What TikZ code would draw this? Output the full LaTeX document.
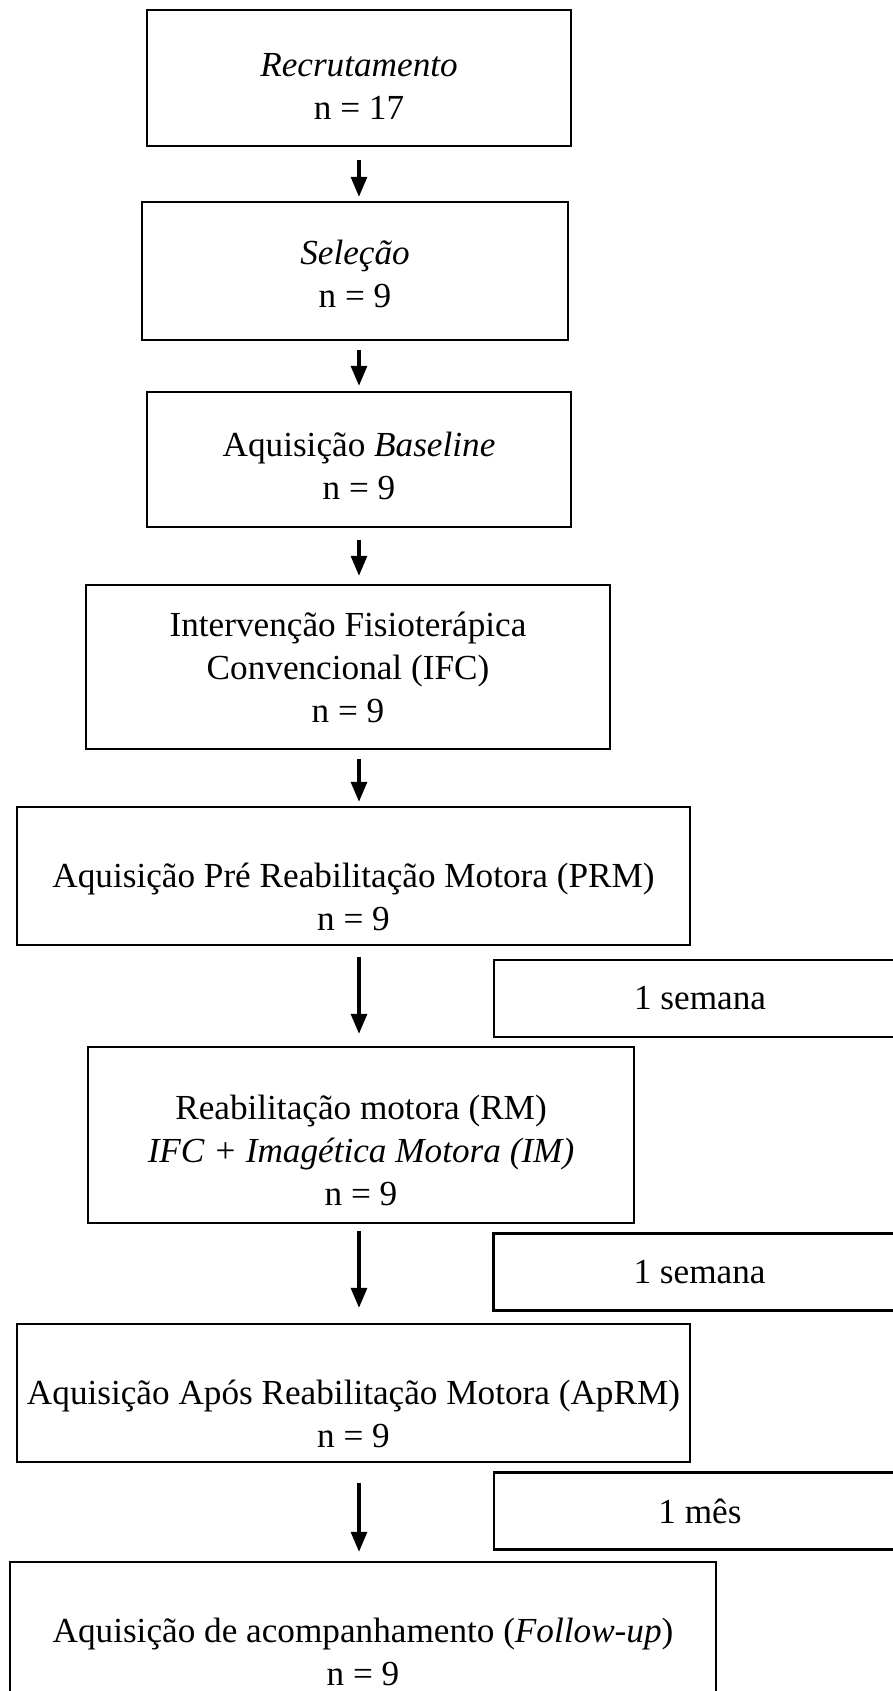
\documentclass[tikz,border=0pt]{standalone}
\usepackage{fontspec}
\setmainfont{Liberation Serif}
\usetikzlibrary{arrows.meta}

\begin{document}
\begin{tikzpicture}[x=0.5pt,y=-0.5pt,
        box/.style={draw,line width=1.2pt,align=center,inner sep=1pt,
            font=\fontsize{17.6}{21.5}\selectfont},
        side/.style={box,minimum width=206pt,minimum height=38.5pt},
        seta/.style={line width=1.6pt,-{Triangle[length=10pt,width=8pt]}}
        ]
        \useasboundingbox (0,0) rectangle (893,1691);
        
        % The stages
        \node[box,minimum width=212pt,minimum height=68pt] (recr) at (359,78) {\vphantom{A}\\[-13pt] \textit{Recrutamento}\\ n = 17};
        \node[box,minimum width=213pt,minimum height=69pt] (sel) at (355,271) {\vphantom{A}\\[-17.5pt] \textit{Seleção}\\ n = 9};
        \node[box,minimum width=212pt,minimum height=67.5pt] (base) at (359,459.5) {\vphantom{A}\\[-14.5pt] Aquisição \textit{Baseline}\\ n = 9};
        \node[box,minimum width=262pt,minimum height=82pt] (ifc) at (348,667) {Intervenção Fisioterápica\\ Convencional (IFC)\\ n = 9};
        \node[box,minimum width=336.5pt,minimum height=69pt] (prm) at (353.5,876) {\vphantom{A}\\ Aquisição Pré Reabilitação Motora (PRM)\\ n = 9};
        \node[box,minimum width=273pt,minimum height=88pt] (rm) at (361,1135) {\vphantom{A}\\[-5.5pt] Reabilitação motora (RM)\\ \textit{IFC + Imagética Motora (IM)}\\ n = 9};
        \node[box,minimum width=336.5pt,minimum height=69pt] (aprm) at (353.5,1393) {\vphantom{A}\\ Aquisição Após Reabilitação Motora (ApRM)\\ n = 9};
        \node[box,minimum width=353pt,minimum height=90pt] (fup) at (363,1652) {Aquisição de acompanhamento (\textit{Follow-up})\\ n = 9};
        
        % The intervals
        \node[side] (sem1) at (700,998.5) {1 semana};
        \node[side] (sem2) at (699.5,1272) {1 semana};
        \node[side] (mes) at (700,1511) {1 mês};
        
        % The arrows
        \coordinate (spine) at (359,0);
        \draw[seta,shorten <=6.5pt,shorten >=2pt] (recr.south -| spine) -- (sel.north -| spine);
        \draw[seta,shorten <=4.5pt,shorten >=2.5pt] (sel.south -| spine) -- (base.north -| spine);
        \draw[seta,shorten <=6pt,shorten >=4pt] (base.south -| spine) -- (ifc.north -| spine);
        \draw[seta,shorten <=4.5pt,shorten >=2pt] (ifc.south -| spine) -- (prm.north -| spine);
        \draw[seta,shorten <=5.5pt,shorten >=6pt] (prm.south -| spine) -- (rm.north -| spine);
        \draw[seta,shorten <=3.5pt,shorten >=7.5pt] (rm.south -| spine) -- (aprm.north -| spine);
        \draw[seta,shorten <=10pt,shorten >=4.5pt] (aprm.south -| spine) -- (fup.north -| spine);
\end{tikzpicture}
\end{document}
